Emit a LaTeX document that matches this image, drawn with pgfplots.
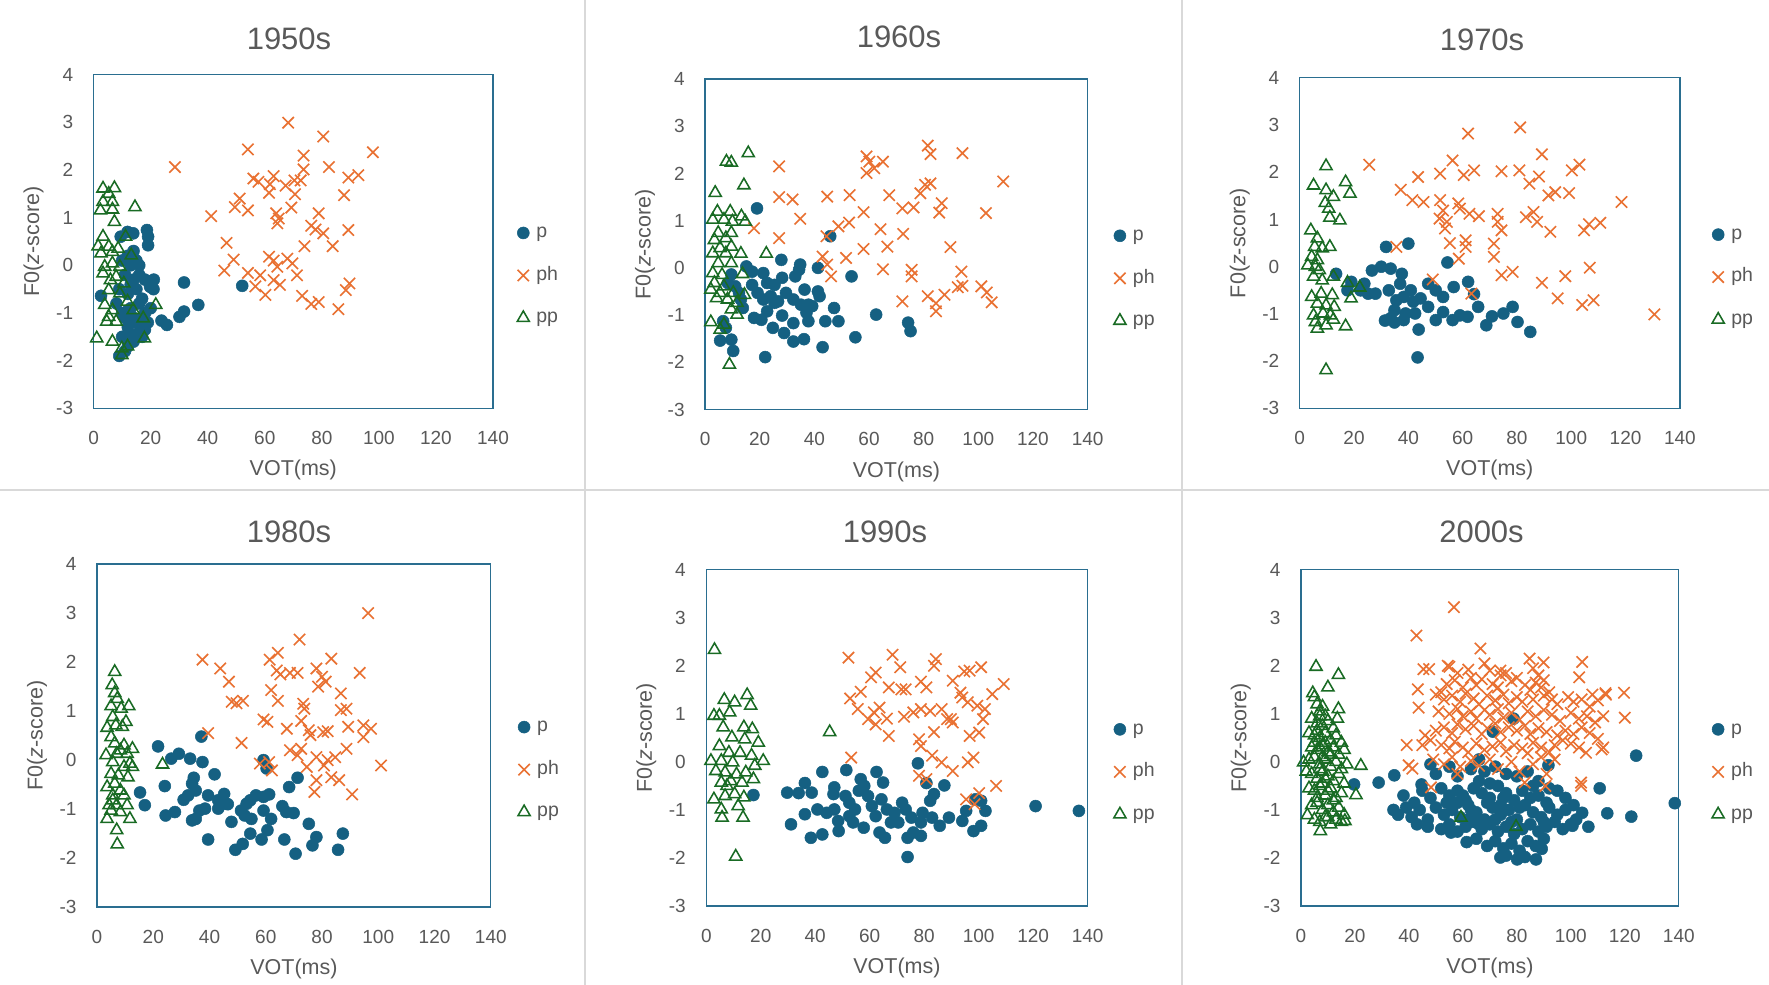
\documentclass[border=0pt]{standalone}
\usepackage{fontspec}
\setmainfont{Liberation Sans}
\usepackage{pgfplots}
\pgfplotsset{compat=1.18}

\definecolor{cP}{HTML}{156082}
\definecolor{cPH}{HTML}{E97132}
\definecolor{cPP}{HTML}{196B24}
\definecolor{txt}{HTML}{595959}
\definecolor{boxc}{HTML}{2A6E90}
\definecolor{sepc}{HTML}{D9D9D9}

\pgfplotsset{
  vot/.style={
    scale only axis, anchor=south west, clip=false,
    xmin=0, xmax=140, ymin=-3, ymax=4,
    xtick={0,20,40,60,80,100,120,140},
    xticklabels={0,20,40,60,80,100,120,140},
    ytick={-3,-2,-1,0,1,2,3,4},
    yticklabels={-3,-2,-1,0,1,2,3,4},
    major tick length=0pt, tick style={draw=none},
    axis line style={draw=boxc, line width=0.5pt},
    ticklabel style={font=\fontsize{7.6}{9}\selectfont, text=txt},
    xticklabel style={anchor=center, yshift=-11.8pt, inner sep=0pt},
    yticklabel style={anchor=east, xshift=-8pt, inner sep=0pt},
    xlabel={VOT(ms)},
    ylabel={F0(\textit{z}-score)},
    xlabel style={at={([yshift=-24.8pt]axis description cs:0.5,0)}, anchor=center,
      font=\fontsize{8.6}{10}\selectfont, text=txt},
    ylabel style={at={([xshift=-24pt]axis description cs:0,0.5)}, anchor=center,
      font=\fontsize{8.6}{10}\selectfont, text=txt},
    legend cell align=left,
    legend image code/.code={\draw[##1] plot coordinates {(0pt,0pt)};},
    legend style={draw=none, fill=none, anchor=west, inner sep=0pt,
      font=\fontsize{7.8}{9}\selectfont, text=txt,
      row sep=8pt, column sep=1.8pt,
      nodes={inner sep=1pt, text height=5.4pt, text depth=1.6pt}},
  },
  legx/.style={legend style={at={([xshift=#1,yshift=-13.6pt]axis description cs:1,0.5)}}},
  pS/.style={only marks, mark=*, mark size=2.4pt, draw=cP, fill=cP, mark options={draw=cP, fill=cP, line width=0.2pt}},
  phS/.style={only marks, mark=x, mark size=3.2pt, color=cPH, mark options={line width=0.65pt}},
  ppS/.style={only marks, mark=triangle, mark size=2.8pt, color=cPP, mark options={line width=0.62pt, fill=none}},
}

\begin{document}
\begin{tikzpicture}
\useasboundingbox (0pt,0pt) rectangle (707.6pt,-394pt);
\fill[white] (0pt,0pt) rectangle (707.6pt,-394pt);

% panel borders
\draw[sepc, line width=0.6pt] (234pt,0pt) -- (234pt,-394pt);
\draw[sepc, line width=0.6pt] (472.8pt,0pt) -- (472.8pt,-394pt);
\draw[sepc, line width=0.6pt] (0pt,-196pt) -- (707.6pt,-196pt);

% titles
\begin{scope}[every node/.style={font=\fontsize{12.4}{14}\selectfont, text=txt, anchor=center}]
\node at (115.6pt,-15.6pt) {1950s};
\node at (359.6pt,-14.6pt) {1960s};
\node at (592.8pt,-15.8pt) {1970s};
\node at (115.6pt,-212.6pt) {1980s};
\node at (354pt,-212.6pt) {1990s};
\node at (592.6pt,-212.6pt) {2000s};
\end{scope}

%================ 1950s
\begin{axis}[vot, at={(37.44pt,-163.36pt)}, width=159.76pt, height=133.56pt, legx=9.5pt]
\addplot[pS] coordinates {
(2.6,-0.64)(9.5,0.60)(11.9,0.70)(13.9,0.67)(18.7,0.74)(19.1,0.60)(19.1,0.42)(31.7,-0.36)(36.7,-0.83)(31.7,-0.97)(30.1,-1.08)(25.7,-1.25)(23.8,-1.16)(52.1,-0.43)(21.1,-0.30)(19.8,-0.45)
(11,-0.2)(13,0.0)(14,-0.3)(15,-0.5)(12,-0.6)(16,-0.8)(17,-0.7)(13,-0.9)(14,-1.1)(12,-1.3)(15,-1.2)(16,-1.4)(10,-1.5)(12,-1.7)(14,-1.6)(11,-1.8)(9,-1.9)(18,-1.0)(19,-1.2)(17,-1.5)(10,-1.0)(9,-0.5)(13,-0.4)(16,-0.2)(15,0.1)(12,0.2)(18,-0.3)(8,-0.8)(11,-1.1)(20,-0.9)(21,-0.5)(14,0.3)(16,0.0)(10,0.1)(17,-1.1)(13,-1.45)(18,-1.35)(12,-0.95)
};
\addplot[phS] coordinates {
(28.5,2.06)(54.1,2.43)(68.2,2.99)(80.5,2.70)(97.9,2.37)(73.6,2.30)(82.5,2.06)(73.6,2.01)(56.0,1.82)(57.8,1.75)(63.1,1.87)(61.8,1.70)(61.5,1.52)(67.3,1.67)(70.4,1.78)(72.6,1.78)(89.3,1.84)(92.8,1.89)(87.8,1.47)(70.6,1.49)(69.3,1.21)(51.2,1.40)(49.5,1.22)(54.1,1.15)(41.2,1.03)(64.0,1.09)(64.9,0.98)(64.4,0.88)(78.9,1.09)(76.3,0.83)(77.8,0.75)(80.5,0.67)(89.3,0.74)(73.9,0.40)(83.8,0.40)(46.6,0.47)(49.1,0.12)(45.8,-0.11)(54.1,-0.16)(61.5,0.18)(63.1,0.10)(67.9,0.14)(69.7,0.04)(64.4,-0.03)(71.3,-0.21)(58.4,-0.21)(56.7,-0.44)(63.1,-0.31)(65.3,-0.41)(60.2,-0.62)(73.1,-0.64)(76.3,-0.81)(78.9,-0.77)(85.8,-0.92)(88.4,-0.52)(89.7,-0.38)
};
\addplot[ppS] coordinates {
(1.1,-1.53)(3.3,1.61)(7.3,1.62)(5.3,1.50)(6.6,1.33)(3.3,1.33)(2.4,1.15)(6.6,1.17)(7.3,0.91)(14.5,1.22)(3.3,0.60)(1.6,0.40)(5.3,0.39)(2.6,0.25)(6.6,0.28)(8.6,0.35)(11.2,0.60)(13.2,0.21)(3.9,-0.03)(6.6,0.04)(9.2,-0.03)(3.3,-0.17)(5.9,-0.31)(7.9,-0.24)(10.6,-0.38)(5.3,-0.52)(9.2,-0.59)(3.9,-0.83)(6.6,-0.94)(5.3,-1.08)(4.6,-1.18)(7.9,-1.18)(13.9,-0.94)(17.4,-1.11)(21.8,-0.83)(17.8,-1.53)(6.6,-1.60)(9.9,-1.74)(9.9,-1.88)(11.9,-1.70)(11.9,-0.76)
};
\legend{p,ph,pp}
\end{axis}

%================ 1960s
\begin{axis}[vot, at={(282.04pt,-163.8pt)}, width=153pt, height=132.2pt, legx=10.3pt]
\addplot[pS] coordinates {
(19.0,1.26)(45.8,0.67)(27.9,0.17)(34.8,0.07)(41.3,0.00)(53.6,-0.18)(15.1,0.03)(17.2,-0.08)(21.3,-0.11)(22.7,-0.32)(25.4,-0.36)(28.2,-0.21)(33.0,-0.18)(34.4,-0.04)(32.3,-0.67)(35.1,-0.78)(37.8,-0.78)(41.3,-0.50)(41.9,-0.60)(47.2,-0.85)(37.1,-0.95)(37.8,-1.13)(44.0,-1.13)(48.8,-1.13)(62.6,-0.99)(74.3,-1.16)(75.2,-1.34)(55.0,-1.47)(43.0,-1.68)(36.2,-1.51)(32.3,-1.56)(32.3,-1.17)(28.9,-1.38)(24.8,-1.27)(28.2,-1.01)(22.7,-0.92)(17.9,-1.06)(20.6,-1.10)(22.0,-1.89)(5.5,-1.54)(9.6,-1.52)(10.3,-1.76)(6.6,-1.13)(7.6,-1.27)(13.1,-0.67)(12.4,-0.53)(11.0,-0.39)(19.2,-0.53)(24.0,-0.60)(26.7,-0.71)(29.6,-0.53)(25.4,-0.74)(21.3,-0.67)(17.2,-0.36)(9.6,-0.14)(8.3,-0.32)(36.4,-0.46)(39.2,-0.81)(13.8,-0.85)
};
\addplot[phS] coordinates {
(27.1,2.15)(27.1,1.50)(32.0,1.45)(34.8,1.04)(27.1,0.63)(17.9,0.84)(44.7,1.51)(52.9,1.54)(52.7,0.96)(48.8,0.88)(44.4,0.67)(43.0,0.24)(44.7,0.07)(46.1,-0.18)(51.6,0.21)(58.0,1.18)(58.0,0.40)(59.1,2.36)(60.1,2.25)(59.1,2.01)(61.9,2.11)(65.1,2.25)(64.2,0.82)(66.7,0.45)(67.4,1.54)(65.1,-0.03)(72.2,1.26)(76.3,1.28)(72.5,0.72)(72.2,-0.71)(75.6,-0.04)(75.6,-0.18)(78.8,1.58)(80.5,1.76)(82.5,1.79)(81.5,2.59)(82.5,2.41)(94.2,2.43)(86.6,1.37)(85.7,1.17)(89.8,0.44)(93.8,-0.08)(81.5,-0.60)(84.5,-0.75)(84.5,-0.92)(87.6,-0.57)(92.5,-0.41)(94.2,-0.38)(102.8,1.16)(101.1,-0.39)(103.1,-0.52)(104.9,-0.73)(109.1,1.83)
};
\addplot[ppS] coordinates {
(15.8,2.43)(7.8,2.25)(9.6,2.23)(14.2,1.75)(3.7,1.59)(4.5,1.19)(9.2,1.19)(2.8,1.02)(6.9,1.02)(13.3,1.09)(14.7,0.98)(10.0,0.98)(4.8,0.74)(3.4,0.59)(7.6,0.63)(9.6,0.74)(5.5,0.42)(9.6,0.45)(2.8,0.31)(7.6,0.31)(13.1,0.30)(22.4,0.30)(4.8,0.10)(9.6,0.10)(2.8,-0.11)(6.2,-0.15)(13.7,-0.13)(3.4,-0.32)(6.9,-0.39)(2.1,-0.46)(5.5,-0.53)(10.3,-0.53)(14.4,-0.57)(8.2,-0.67)(11.7,-0.74)(9.6,-0.88)(11.7,-0.99)(2.1,-1.15)(6.9,-1.20)(5.5,-1.31)(8.9,-2.05)(4.2,-0.64)
};
\legend{p,ph,pp}
\end{axis}

%================ 1970s
\begin{axis}[vot, at={(519.88pt,-163.36pt)}, width=152.08pt, height=132.24pt, legx=12.7pt]
\addplot[pS] coordinates {
(31.8,0.42)(40.0,0.49)(54.4,0.09)(62.0,-0.32)(64.2,-0.58)(65.7,-0.85)(13.4,-0.15)(19.0,-0.32)(17.6,-0.50)(23.8,-0.36)(26.6,-0.08)(30.0,0.00)(33.5,-0.04)(37.0,-0.36)(25.2,-0.57)(27.9,-0.57)(32.8,-0.50)(35.6,-0.71)(38.3,-0.64)(41.8,-0.74)(44.5,-0.67)(47.3,-0.36)(50.1,-0.50)(52.8,-0.64)(56.7,-0.43)(52.8,-0.96)(50.1,-1.13)(47.3,-0.85)(42.5,-0.99)(39.0,-0.99)(34.9,-0.92)(33.5,-1.09)(31.4,-1.14)(34.9,-1.18)(38.3,-1.13)(43.8,-1.33)(43.4,-1.92)(56.3,-1.13)(59.0,-1.03)(61.8,-1.06)(68.7,-1.24)(70.8,-1.05)(75.0,-0.99)(78.4,-0.85)(80.2,-1.17)(84.9,-1.38)(22.4,-0.50)(40.9,-0.50)(37.6,-0.15)
};
\addplot[phS] coordinates {
(25.6,2.16)(37.2,1.63)(41.5,1.41)(45.6,1.37)(43.6,1.90)(51.7,1.97)(56.3,2.25)(60.4,1.94)(64.2,2.04)(62.0,2.82)(51.7,1.41)(52.8,1.19)(51.5,1.02)(54.2,0.95)(53.5,0.81)(55.3,0.50)(58.4,1.34)(59.0,1.23)(62.5,1.12)(66.0,1.07)(61.1,0.56)(61.1,0.42)(58.6,0.17)(35.6,0.42)(49.0,-0.27)(63.2,-0.57)(74.3,2.02)(81.2,2.95)(80.9,2.04)(84.6,1.76)(88.1,1.91)(89.2,2.38)(72.9,1.12)(72.9,0.95)(74.3,0.77)(71.5,0.49)(71.5,0.21)(74.3,-0.18)(78.4,-0.11)(83.3,1.05)(86.1,1.16)(87.4,0.95)(92.3,0.74)(91.6,1.51)(94.1,1.58)(99.2,1.56)(100.2,2.04)(103.0,2.16)(104.7,0.77)(106.5,0.90)(110.7,0.93)(118.5,1.37)(106.8,-0.02)(97.8,-0.20)(89.2,-0.34)(95.0,-0.67)(104.0,-0.81)(108.2,-0.71)(130.6,-1.01)
};
\addplot[ppS] coordinates {
(9.7,2.13)(5.1,1.72)(9.7,1.62)(16.9,1.79)(18.5,1.55)(12.4,1.48)(9.4,1.35)(10.7,1.23)(11.1,1.04)(14.8,0.98)(4.1,0.77)(6.5,0.60)(5.5,0.42)(8.3,0.39)(11.1,0.42)(4.4,0.21)(6.5,0.14)(3.0,0.03)(5.8,0.00)(7.2,-0.07)(5.1,-0.21)(8.3,-0.29)(12.4,-0.21)(17.6,-0.34)(22.1,-0.44)(4.4,-0.64)(7.9,-0.57)(12.0,-0.60)(18.9,-0.67)(6.5,-0.78)(9.7,-0.82)(12.7,-0.85)(5.1,-1.03)(8.6,-0.99)(11.3,-1.03)(5.8,-1.17)(12.4,-1.12)(6.5,-1.31)(9.7,-1.24)(16.9,-1.26)(9.7,-2.19)
};
\legend{p,ph,pp}
\end{axis}

%================ 1980s
\begin{axis}[vot, at={(38.8pt,-362.84pt)}, width=157.52pt, height=137.2pt, legx=10.7pt]
\addplot[pS] coordinates {
(37.1,0.48)(21.7,0.28)(26.4,0.03)(29.1,0.13)(33.1,0.03)(37.5,-0.04)(41.8,-0.29)(34.4,-0.36)(33.8,-0.48)(35.1,-0.62)(24.1,-0.53)(15.3,-0.66)(17.0,-0.92)(24.4,-1.13)(27.7,-1.06)(30.8,-0.81)(32.4,-0.72)(39.5,-0.72)(36.4,-1.03)(38.4,-0.99)(35.1,-1.20)(33.8,-1.23)(39.5,-1.62)(43.1,-0.82)(45.2,-0.69)(45.8,-0.89)(46.5,-0.90)(43.1,-0.99)(47.8,-1.26)(51.2,-1.03)(53.2,-0.89)(54.5,-0.82)(52.5,-1.13)(54.9,-1.20)(56.5,-0.72)(59.2,-0.75)(61.2,-0.70)(59.2,-1.03)(61.9,-1.20)(49.2,-1.83)(51.8,-1.71)(54.5,-1.50)(58.5,-1.62)(60.6,-1.43)(59.2,0.00)(60.3,-0.17)(65.9,-0.94)(67.3,-1.06)(69.9,-1.08)(68.3,-0.55)(71.3,-0.36)(66.6,-1.62)(70.6,-1.91)(75.3,-1.30)(78.0,-1.57)(76.6,-1.74)(85.7,-1.83)(87.4,-1.50)
};
\addplot[phS] coordinates {
(37.5,2.05)(43.8,1.87)(46.9,1.60)(47.9,1.19)(49.6,1.16)(51.9,1.21)(39.5,0.55)(51.4,0.35)(61.4,2.05)(64.3,2.19)(63.9,1.83)(65.2,1.75)(68.6,1.78)(71.3,1.78)(72.0,2.46)(61.9,1.43)(64.3,1.21)(59.2,0.83)(60.6,0.78)(67.5,0.64)(72.6,0.80)(73.3,1.15)(73.7,1.05)(75.9,0.51)(68.6,0.20)(71.3,0.10)(72.6,0.23)(57.9,-0.07)(61.2,-0.04)(62.2,-0.21)(78.0,1.87)(80.0,1.70)(78.6,1.50)(81.3,1.60)(83.3,2.07)(86.7,1.36)(86.7,1.02)(88.7,1.05)(80.4,0.57)(82.0,0.59)(89.3,0.68)(93.4,1.78)(96.4,3.00)(94.7,0.71)(97.4,0.64)(94.7,0.47)(88.7,0.23)(84.7,0.06)(82.0,0.00)(80.7,-0.11)(78.0,0.06)(74.6,-0.14)(83.3,-0.35)(86.1,-0.41)(78.0,-0.41)(77.3,-0.65)(90.7,-0.70)(101.0,-0.11)(75.3,0.61)
};
\addplot[ppS] coordinates {
(6.3,1.80)(5.4,1.53)(6.3,1.37)(7.2,1.25)(5.0,1.10)(11.3,1.10)(8.6,1.05)(5.6,0.88)(10.3,0.78)(3.6,0.66)(6.7,0.71)(9.0,0.68)(5.0,0.47)(6.3,0.34)(9.6,0.30)(12.6,0.23)(3.2,0.10)(7.0,0.13)(8.3,0.20)(10.7,0.13)(5.6,-0.04)(11.7,-0.07)(9.6,-0.14)(12.6,-0.14)(23.3,-0.09)(5.0,-0.28)(7.6,-0.31)(11.0,-0.35)(3.6,-0.55)(6.3,-0.48)(8.3,-0.62)(5.6,-0.72)(9.6,-0.72)(4.3,-0.92)(7.0,-0.92)(10.7,-0.92)(5.0,-1.03)(8.3,-1.06)(3.6,-1.20)(11.7,-1.20)(7.0,-1.43)(7.2,-1.72)(5.6,-0.82)
};
\legend{p,ph,pp}
\end{axis}

%================ 1990s
\begin{axis}[vot, at={(282.52pt,-362.4pt)}, width=152.52pt, height=134.52pt, legx=10.3pt]
\addplot[pS] coordinates {
(17.3,-0.69)(29.7,-0.64)(33.9,-0.65)(36.2,-0.44)(38.7,-0.64)(42.6,-0.21)(51.4,-0.17)(62.5,-0.21)(77.7,-0.03)(80.8,-0.44)(87.4,-0.49)(31.1,-1.30)(36.2,-1.09)(38.4,-1.58)(42.6,-1.51)(40.8,-0.99)(44.2,-1.06)(47.0,-0.53)(46.7,-0.67)(48.4,-1.23)(48.6,-1.44)(51.1,-0.71)(52.5,-0.85)(54.6,-0.99)(56.7,-0.36)(58.0,-0.50)(59.4,-0.71)(56.0,-0.60)(53.9,-1.26)(57.8,-1.37)(60.8,-0.92)(62.2,-1.13)(64.3,-0.78)(64.9,-0.43)(66.3,-0.99)(63.6,-1.47)(65.6,-1.58)(67.8,-1.26)(69.1,-1.06)(71.9,-0.85)(73.2,-0.99)(75.3,-1.16)(73.9,-1.58)(76.0,-1.47)(73.9,-1.98)(78.8,-1.26)(79.4,-1.06)(82.2,-0.81)(83.6,-0.67)(82.9,-1.16)(85.7,-1.33)(89.1,-1.16)(94.0,-1.23)(95.4,-1.02)(98.1,-1.44)(100.9,-1.33)(98.8,-0.78)(100.9,-0.81)(102.5,-1.02)(120.9,-0.92)(136.8,-1.02)(78.8,-1.54)(70.5,-1.26)(47.0,-0.99)(52.5,-1.13)
};
\addplot[phS] coordinates {
(52.2,2.17)(68.4,2.23)(71.2,1.97)(60.5,1.76)(62.2,1.86)(56.7,1.46)(52.8,1.32)(55.6,1.10)(59.4,0.89)(61.5,1.03)(63.6,1.13)(66.3,0.90)(62.2,0.78)(67.0,1.55)(71.6,1.51)(67.0,0.54)(78.8,1.67)(80.8,1.55)(84.3,2.14)(83.6,2.00)(72.6,0.94)(76.0,1.03)(78.8,1.10)(82.2,1.06)(86.4,1.10)(88.4,0.89)(90.5,0.82)(83.6,0.62)(78.1,0.47)(78.8,0.33)(82.9,0.13)(86.4,-0.01)(90.5,-0.19)(78.1,-0.29)(80.8,-0.36)(90.5,1.69)(94.7,1.88)(96.7,1.90)(100.9,1.97)(93.3,1.44)(94.0,1.34)(96.0,1.24)(99.5,1.17)(102.3,1.10)(105.0,1.41)(109.2,1.62)(101.6,0.89)(96.7,0.54)(100.2,0.61)(98.1,0.09)(96.0,-0.01)(53.2,0.09)(95.4,-0.78)(98.5,-0.88)(100.2,-0.65)(106.4,-0.50)(89.8,0.89)(73.2,1.51)
};
\addplot[ppS] coordinates {
(3.0,2.33)(6.6,1.29)(10.4,1.24)(15.0,1.39)(16.3,1.17)(2.8,0.96)(4.8,0.96)(8.6,1.03)(6.2,0.72)(13.8,0.72)(16.9,0.68)(9.4,0.51)(14.1,0.47)(19.1,0.40)(4.8,0.33)(8.3,0.19)(12.4,0.19)(16.6,0.13)(1.7,0.02)(5.5,0.02)(9.7,-0.01)(20.9,0.02)(17.8,-0.08)(3.5,-0.19)(6.9,-0.22)(11.1,-0.26)(14.5,-0.22)(5.5,-0.43)(9.0,-0.40)(13.1,-0.43)(17.3,-0.36)(2.8,-0.78)(6.9,-0.71)(10.4,-0.67)(13.8,-0.74)(5.5,-0.99)(11.7,-0.92)(5.8,-1.16)(13.5,-1.16)(10.8,-1.97)(45.3,0.62)(7.6,-0.50)
};
\legend{p,ph,pp}
\end{axis}

%================ 2000s
\begin{axis}[vot, at={(520.36pt,-362.4pt)}, width=151.16pt, height=134.52pt, legx=13.1pt]
\addplot[pS] coordinates {
(19.7,-0.47)(28.8,-0.43)(34.6,-0.28)(124.2,0.13)(138.5,-0.86)(122.4,-1.14)(113.5,-1.07)(110.7,-0.55)(106.5,-1.35)(100.6,-1.33)(104.2,-1.06)(78.8,0.90)(71.1,0.63)(91.7,-0.07)(73.9,-1.99)(80.1,-2.03)(87.1,-2.03)(89.2,-1.81)(61.4,-1.67)(55.6,-1.47)(34.3,-1.00)(44.7,-0.47)
(48,-0.05)(50,-0.25)(55,-0.10)(58,-0.30)(63,-0.15)(66,0.05)(68,-0.20)(72,-0.10)(76,-0.25)(80,-0.30)(84,-0.20)(88,-0.40)(92,-0.55)
(38,-0.70)(42,-0.85)(45,-0.60)(48,-0.75)(52,-0.55)(55,-0.70)(58,-0.60)(61,-0.80)(64,-0.55)(67,-0.65)(70,-0.75)(73,-0.50)(76,-0.65)(79,-0.80)(82,-0.60)(85,-0.75)(88,-0.70)(91,-0.85)(95,-0.60)(98,-0.75)(101,-0.90)
(36,-1.10)(39,-0.95)(41,-1.15)(44,-1.00)(47,-1.20)(50,-0.95)(53,-1.10)(56,-1.00)(59,-1.15)(62,-0.90)(65,-1.05)(68,-1.20)(71,-0.95)(74,-1.10)(77,-1.00)(80,-1.20)(83,-0.90)(86,-1.05)(89,-1.15)(92,-0.95)(95,-1.10)(98,-1.00)(102,-1.20)(43,-1.30)(47,-1.35)
(52,-1.40)(55,-1.30)(58,-1.45)(61,-1.35)(64,-1.25)(67,-1.40)(70,-1.30)(73,-1.45)(76,-1.35)(79,-1.50)(82,-1.40)(85,-1.30)(88,-1.45)(91,-1.35)(94,-1.25)(97,-1.40)(100,-1.30)
(65,-1.60)(69,-1.75)(72,-1.65)(75,-1.80)(78,-1.70)(81,-1.85)(84,-1.65)(87,-1.75)(90,-1.60)(76,-1.95)(83,-1.98)
(60,-0.70)(63,-1.00)(66,-1.30)(69,-0.85)(72,-1.20)(75,-0.75)(78,-1.25)(81,-0.95)(66,-0.40)(70,-0.45)(74,-0.90)(62,-1.20)(58,-0.85)(54,-0.85)(86,-0.50)(90,-1.25)
};
\addplot[phS] coordinates {
(56.7,3.22)(42.8,2.63)(66.5,2.36)(45.4,1.93)(47.5,1.93)(43.3,1.51)(43.6,1.13)(39.2,0.35)(39.9,-0.07)(41.3,-0.14)(48.2,-0.53)(104.2,2.08)(103.1,1.76)(119.7,1.44)(120.0,0.92)(112.8,1.43)(111.4,0.26)(105.6,0.19)(103.8,-0.43)(103.8,-0.50)(90.6,-0.50)(82.9,-0.43)(84.7,2.15)(89.9,2.07)(54.4,2.00)(73.9,1.90)
(55,1.98)(58,1.85)(62,1.92)(68,2.05)(70,1.90)(74,1.80)(76,1.85)(80,1.75)(86,1.95)(88,1.80)(90,1.70)
(52,1.45)(54,1.62)(57,1.70)(60,1.55)(63,1.75)(65,1.60)(67,1.72)(71,1.62)(73,1.55)(78,1.68)(83,1.60)(85,1.50)(87,1.65)(89,1.55)(92,1.45)
(50,1.40)(53,1.30)(56,1.38)(59,1.25)(61,1.42)(64,1.32)(66,1.20)(69,1.38)(72,1.28)(75,1.40)(77,1.22)(80,1.35)(82,1.25)(86,1.30)(90,1.38)(93,1.30)(95,1.20)(99,1.35)(101,1.25)(104,1.30)(107,1.15)(110,1.28)(113,1.40)(108,1.40)
(51,1.05)(55,1.00)(58,1.10)(60,0.95)(63,1.05)(65,0.90)(68,1.08)(70,0.98)(73,1.10)(75,0.92)(78,1.02)(81,0.88)(84,1.05)(87,0.95)(90,1.08)(93,0.98)(96,0.85)(100,1.02)(103,0.90)(106,0.95)(109,0.82)(112,0.95)
(50,0.65)(53,0.72)(56,0.60)(58,0.78)(61,0.68)(64,0.75)(67,0.58)(69,0.70)(72,0.80)(74,0.62)(77,0.72)(80,0.65)(83,0.75)(85,0.58)(88,0.70)(91,0.62)(95,0.55)(98,0.65)(101,0.58)(104,0.72)(107,0.60)(110,0.48)(46,0.55)(48,0.45)
(52,0.35)(55,0.28)(57,0.42)(60,0.30)(62,0.20)(65,0.38)(68,0.25)(71,0.32)(74,0.40)(76,0.22)(79,0.35)(82,0.28)(84,0.18)(86,0.40)(89,0.30)(92,0.20)(94,0.35)(97,0.45)(100,0.38)(103,0.30)(45,0.35)(112,0.30)
(49,0.05)(53,-0.05)(56,0.10)(59,-0.10)(63,0.02)(66,-0.08)(70,0.05)(73,-0.15)(78,0.00)(81,-0.20)(86,-0.05)(89,0.10)(91,-0.25)(58,-0.25)(94,0.05)
};
\addplot[ppS] coordinates {
(5.6,1.98)(13.9,1.81)(10.0,1.55)(4.4,1.43)(13.9,1.10)(13.5,0.90)(22.2,-0.08)(20.4,-0.69)(7.2,-1.44)(2.4,-1.11)(1.0,-0.01)(59.3,-1.16)(79.7,-1.35)(16.3,-1.23)
(5,1.35)(6,1.20)(7,1.05)(8,1.15)(9,0.95)(4,0.90)(6,0.80)(8,0.75)(10,0.85)(12,0.70)(3,0.60)(5,0.55)(7,0.50)(9,0.60)(11,0.45)(13,0.55)(15,0.40)(4,0.30)(6,0.25)(8,0.35)(10,0.20)(12,0.30)(14,0.15)(16,0.25)(3,0.05)(5,0.10)(7,-0.05)(9,0.05)(11,-0.10)(13,0.00)(15,-0.15)(17,-0.05)(2,-0.20)(4,-0.25)(6,-0.35)(8,-0.20)(10,-0.30)(12,-0.40)(14,-0.25)(16,-0.45)(3,-0.55)(5,-0.60)(7,-0.50)(9,-0.70)(11,-0.55)(13,-0.75)(15,-0.65)(4,-0.90)(6,-0.85)(8,-1.00)(10,-0.90)(12,-1.05)(14,-0.95)(16,-1.10)(5,-1.20)(7,-1.25)(9,-1.15)(11,-1.30)(13,-1.20)(15,-1.25)(7,0.95)(6,0.65)(9,0.40)(8,0.10)(7,-0.15)(8,-0.45)(10,-0.60)(9,-0.35)(11,0.15)(6,-0.75)(12,-0.80)(10,-1.15)(5,0.40)(7,0.30)
};
\legend{p,ph,pp}
\end{axis}
\end{tikzpicture}
\end{document}
